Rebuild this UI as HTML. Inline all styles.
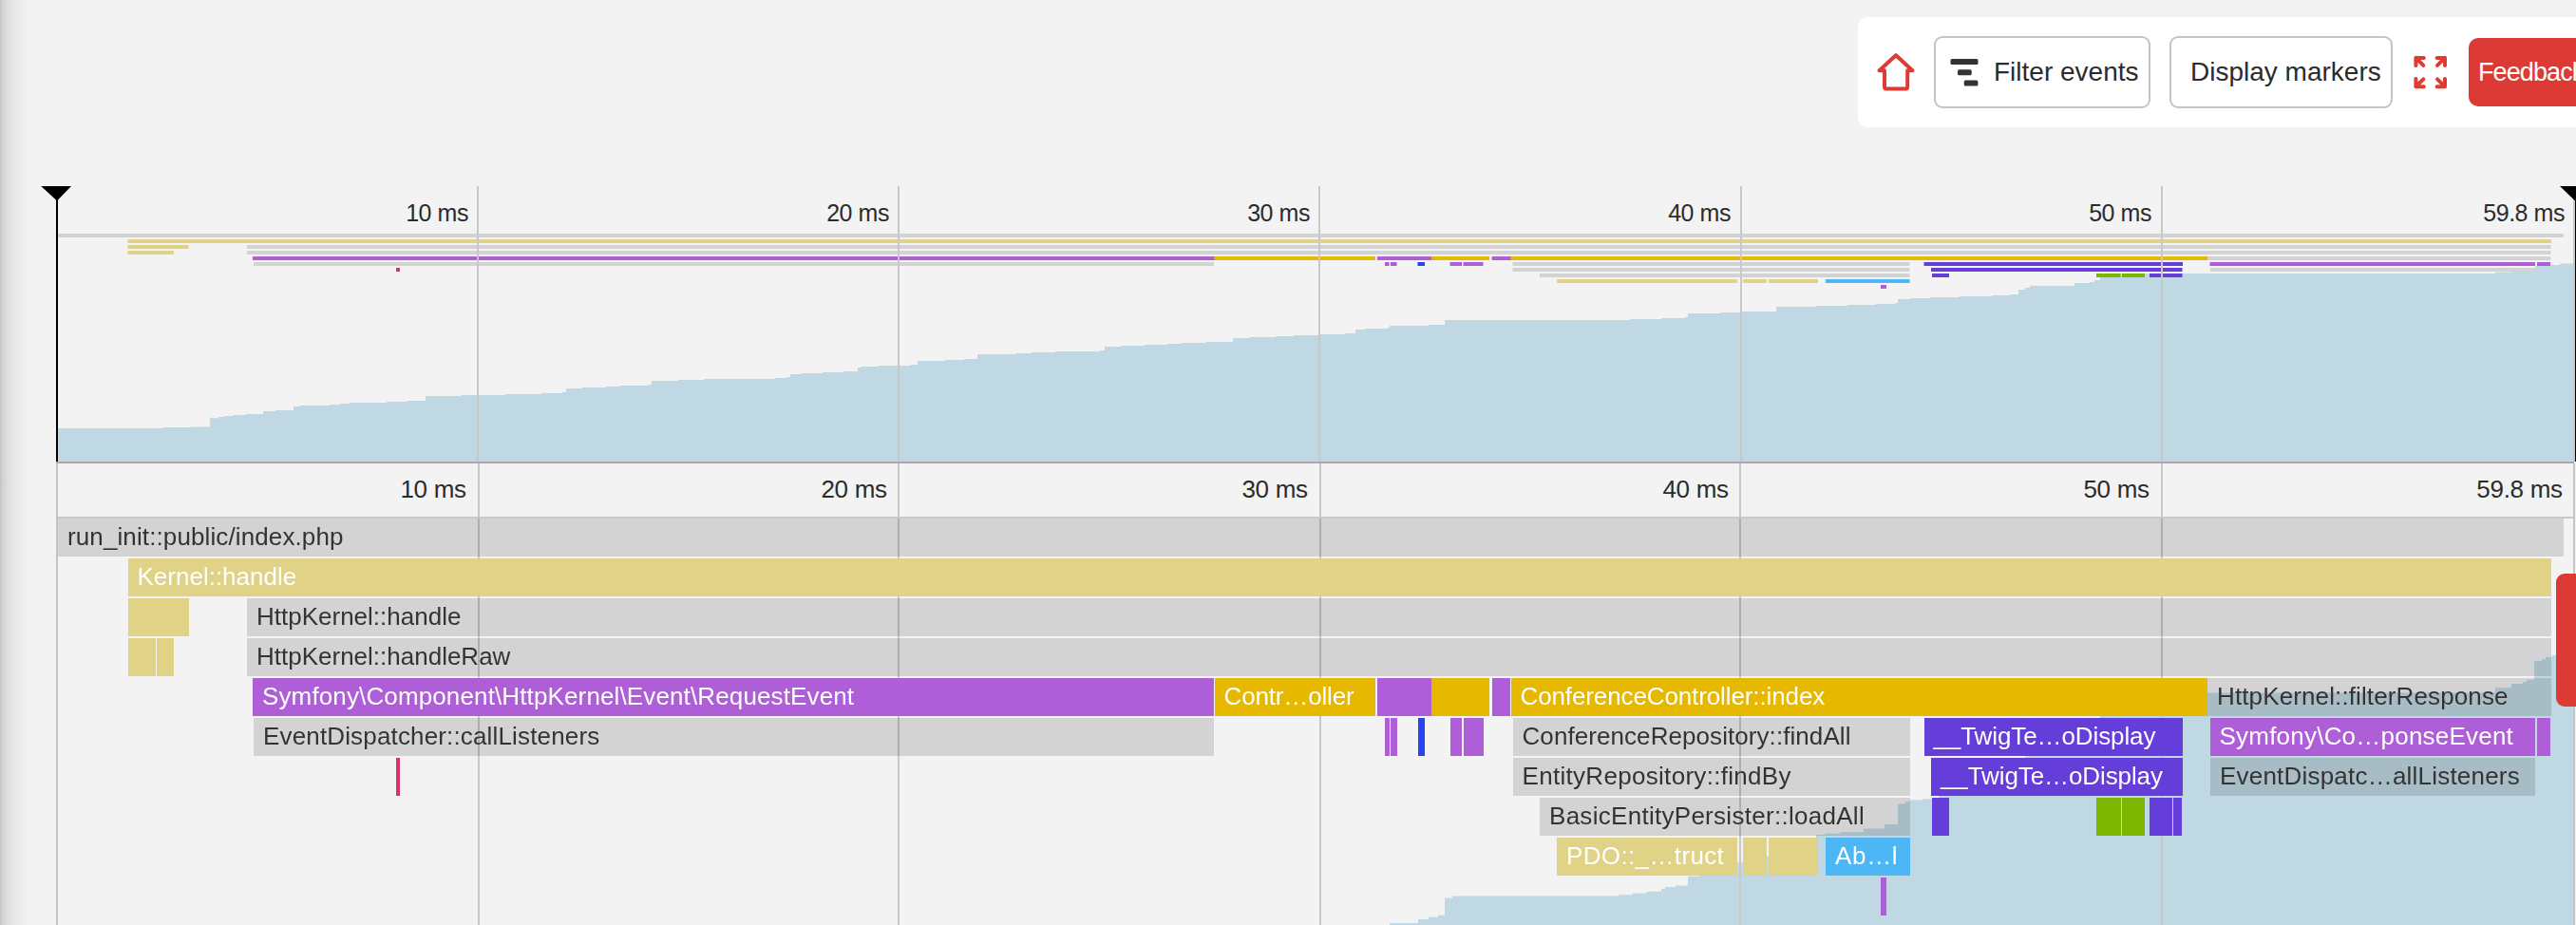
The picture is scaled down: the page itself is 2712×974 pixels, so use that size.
<!DOCTYPE html>
<html><head><meta charset="utf-8"><title>Timeline</title>
<style>
*{box-sizing:border-box}
html,body{margin:0;padding:0;width:2712px;height:974px;overflow:hidden;background:#f3f3f3;font-family:"Liberation Sans",Arial,sans-serif;}
.abs{position:absolute}
.shadow{position:absolute;left:0;top:0;width:40px;height:974px;background:linear-gradient(to right,#c3c3c3 0px,#d3d3d3 3px,#dcdcdc 7px,#e4e4e4 13px,#ebebeb 20px,#f0f0f0 28px,#f3f3f3 36px);}
.toolbar{position:absolute;left:1956px;top:18px;width:800px;height:116px;background:#fff;border-radius:10px;}
.btn{position:absolute;top:38px;height:76px;border:2px solid #c4c4c4;border-radius:9px;background:#fff;font-size:28px;color:#2b2b2b;line-height:72px;white-space:nowrap}
.fb{position:absolute;left:2599px;top:40px;width:200px;height:72px;background:#dd3a35;border-radius:10px;color:#fff;font-size:27px;line-height:72px;padding-left:10px;letter-spacing:-0.9px;white-space:nowrap}
.lbl{position:absolute;white-space:nowrap;color:#2b2b2b;text-align:right}
.b{position:absolute;overflow:hidden;white-space:nowrap;font-size:26px;line-height:40px}
.b span{position:absolute;left:10px;top:-1px}
.bars{position:absolute;left:0;top:0;width:2712px;height:974px;will-change:transform}
.red{position:absolute;left:2691px;top:604px;width:40px;height:140px;background:#dd3a35;border-radius:9px;}
</style></head><body>
<div class="shadow"></div>

<div class="toolbar"></div>
<div class="btn" style="left:2036px;width:228px;padding-left:61px">Filter events</div>
<div class="btn" style="left:2284px;width:235px;padding-left:20px">Display markers</div>
<div class="fb">Feedback</div>
<svg class="abs" style="left:0;top:0" width="2712" height="140" viewBox="0 0 2712 140"><g fill="none" stroke="#df3b35" stroke-width="4" stroke-linecap="round" stroke-linejoin="round"><path d="M1978.5 74.2 L1996 58.2 L2013.5 74.2 M1978.5 74.2 H1984 M2008.2 74.2 H2013.5 M1984 74.2 V91.5 Q1984 93.5 1986 93.5 H2006.2 Q2008.2 93.5 2008.2 91.5 V74.2"/><path d="M2551.8 60.9 H2543.4 V69.1 M2543.4 60.9 L2551.3 68.8 M2565.6 60.9 H2574 V69.1 M2574 60.9 L2566 68.8 M2543.4 83 V91.2 H2551.8 M2543.4 91.2 L2551.3 83.3 M2574 83 V91.2 H2565.6 M2574 91.2 L2566 83.3"/></g><g fill="#333"><rect x="2053.5" y="62" width="29" height="6" rx="1.5"/><rect x="2061" y="73.3" width="14.7" height="6" rx="1.5"/><rect x="2067.7" y="84.6" width="14.7" height="6" rx="1.5"/></g></svg>
<svg class="abs" style="left:0;top:0" width="2712" height="974" viewBox="0 0 2712 974">
<path d="M61 486 L61 451 L172 451 L172 450 L201 450 L201 449.4 L221 449.4 L221 440.3 L230 440.3 L230 439 L236 439 L236 438 L246 438 L246 437 L259 437 L259 436 L277 436 L277 433 L290 433 L290 432 L309 432 L309 428 L316 428 L316 427 L347 427 L347 426 L358 426 L358 425 L368 425 L368 424 L407 424 L407 423 L429 423 L429 422 L448 422 L448 417 L486 417 L486 416 L532 416 L532 415 L570 415 L570 414 L592 414 L592 413 L596 413 L596 409 L613 409 L613 408 L638 408 L638 407 L653 407 L653 406 L683 406 L683 405 L686 405 L686 401 L714 401 L714 400 L741 400 L741 399 L816 399 L816 398 L828 398 L828 397 L832 397 L832 394 L844 394 L844 393 L866 393 L866 392 L888 392 L888 391 L903 391 L903 387 L906 387 L906 386 L925 386 L925 385 L959 385 L959 384 L966 384 L966 380 L995 380 L995 379 L1015 379 L1015 378 L1029 378 L1029 373 L1070 373 L1070 372 L1086 372 L1086 371 L1111 371 L1111 370 L1158 370 L1158 369 L1163 369 L1163 365 L1180 365 L1180 364 L1205 364 L1205 363 L1229 363 L1229 362 L1244 362 L1244 361 L1270 361 L1270 360 L1298 360 L1298 356 L1316 356 L1316 355 L1343 355 L1343 354 L1362 354 L1362 353 L1390 353 L1390 352 L1416 352 L1416 351 L1427 351 L1427 347 L1437 347 L1437 346 L1461 346 L1461 345 L1463 345 L1463 343 L1504 343 L1504 342 L1521 342 L1521 337 L1716 337 L1716 336 L1749 336 L1749 335 L1774 335 L1774 334 L1777 334 L1777 330 L1811 330 L1811 329 L1834 329 L1834 328 L1870 328 L1870 323 L1912 323 L1912 322 L1945 322 L1945 321 L1975 321 L1975 320 L1995 320 L1995 319 L1998 319 L1998 315 L2011 315 L2011 314 L2032 314 L2032 313 L2063 313 L2063 312 L2097 312 L2097 311 L2116 311 L2116 310 L2125 310 L2125 305 L2132 305 L2132 303 L2137 303 L2137 301 L2184 301 L2184 298 L2200 298 L2200 297 L2205 297 L2205 295 L2211 295 L2211 292 L2220 292 L2220 288 L2627 288 L2627 286.5 L2644 286.5 L2644 285.3 L2656 285.3 L2656 284 L2669 284 L2669 280 L2685 280 L2685 279 L2695 279 L2695 277.5 L2709 277.5 L2709 486 Z" fill="#c0d8e3"/>
<rect x="61" y="246" width="2638.0" height="4" fill="#d3d3d3"/>
<rect x="134.5" y="252" width="2551.5" height="4" fill="#e0d287"/>
<rect x="134.5" y="258" width="64.0" height="4" fill="#e0d287"/>
<rect x="260" y="258" width="2425.5" height="4" fill="#d3d3d3"/>
<rect x="134.5" y="264" width="31.0" height="4" fill="#e0d287"/>
<rect x="164.9" y="264" width="18.1" height="4" fill="#e0d287"/>
<rect x="260" y="264" width="2425.5" height="4" fill="#d3d3d3"/>
<rect x="266" y="270" width="1013.1" height="4" fill="#ae5fd8"/>
<rect x="1278.5" y="270" width="169.5" height="4" fill="#e6b800"/>
<rect x="1450" y="270" width="57.6" height="4" fill="#ae5fd8"/>
<rect x="1507" y="270" width="61.0" height="4" fill="#e6b800"/>
<rect x="1570.5" y="270" width="20.6" height="4" fill="#ae5fd8"/>
<rect x="1590.5" y="270" width="734.1" height="4" fill="#e6b800"/>
<rect x="2324" y="270" width="361.5" height="4" fill="#d3d3d3"/>
<rect x="267" y="276" width="1011.0" height="4" fill="#d3d3d3"/>
<rect x="1458" y="276" width="4.6" height="4" fill="#ae5fd8"/>
<rect x="1464" y="276" width="6.5" height="4" fill="#ae5fd8"/>
<rect x="1492.5" y="276" width="7.5" height="4" fill="#2a43f2"/>
<rect x="1526.5" y="276" width="12.5" height="4" fill="#ae5fd8"/>
<rect x="1540.5" y="276" width="21.0" height="4" fill="#ae5fd8"/>
<rect x="1592.5" y="276" width="418.0" height="4" fill="#d3d3d3"/>
<rect x="2025.5" y="276" width="272.5" height="4" fill="#653dd8"/>
<rect x="2326.5" y="276" width="342.5" height="4" fill="#ae5fd8"/>
<rect x="2671" y="276" width="14.0" height="4" fill="#ae5fd8"/>
<rect x="417" y="282" width="4.0" height="4" fill="#d6326e"/>
<rect x="1592.5" y="282" width="418.0" height="4" fill="#d3d3d3"/>
<rect x="2033" y="282" width="264.5" height="4" fill="#653dd8"/>
<rect x="2327" y="282" width="342.0" height="4" fill="#d3d3d3"/>
<rect x="1621" y="288" width="389.5" height="4" fill="#d3d3d3"/>
<rect x="2034" y="288" width="18.0" height="4" fill="#653dd8"/>
<rect x="2207" y="288" width="25.5" height="4" fill="#7db500"/>
<rect x="2234" y="288" width="24.0" height="4" fill="#7db500"/>
<rect x="2263" y="288" width="25.4" height="4" fill="#653dd8"/>
<rect x="2287.8" y="288" width="9.7" height="4" fill="#653dd8"/>
<rect x="1639" y="294" width="190.0" height="4" fill="#e0d287"/>
<rect x="1835" y="294" width="25.0" height="4" fill="#e0d287"/>
<rect x="1862" y="294" width="52.0" height="4" fill="#e0d287"/>
<rect x="1922" y="294" width="88.5" height="4" fill="#4db6f5"/>
<rect x="1980" y="300" width="6.0" height="4" fill="#ae5fd8"/>
<rect x="502" y="196" width="2" height="290" fill="#c8c8c8"/>
<rect x="945" y="196" width="2" height="290" fill="#c8c8c8"/>
<rect x="1388" y="196" width="2" height="290" fill="#c8c8c8"/>
<rect x="1832" y="196" width="2" height="290" fill="#c8c8c8"/>
<rect x="2275" y="196" width="2" height="290" fill="#c8c8c8"/>
<rect x="59" y="486" width="2651" height="2" fill="#a9a9a9"/>
<rect x="59" y="200" width="2" height="286" fill="#000"/>
<path d="M43.2 196 H75 L60 211.5 Z" fill="#000"/>
<rect x="2710" y="200" width="2" height="286" fill="#000"/>
<path d="M2695 196 H2727 L2711 211.6 Z" fill="#000"/>
<rect x="2709" y="211" width="2" height="275" fill="#c8c8c8"/>
<path d="M1463 974 L1463 972 L1493 972 L1493 968 L1504 968 L1504 965.7 L1514 965.7 L1514 963.7 L1521 963.7 L1521 945.6 L1529 945.6 L1529 943.5 L1704 943.5 L1704 942.3 L1719 942.3 L1719 940.5 L1734 940.5 L1734 938.7 L1749 938.7 L1749 936 L1753 936 L1753 934 L1764 934 L1764 932.5 L1777 932.5 L1777 922.7 L1790 922.7 L1790 914 L1811 914 L1811 910.3 L1829 910.3 L1829 907.5 L1858 907.5 L1858 901.5 L1870 901.5 L1870 884 L1912 884 L1912 879 L1921 879 L1921 877.7 L1937 877.7 L1937 876.2 L1962 876.2 L1962 872.4 L1984 872.4 L1984 868 L1998 868 L1998 846.6 L2006 846.6 L2006 844.3 L2011 844.3 L2011 842.2 L2024 842.2 L2024 841.3 L2041 841.3 L2041 837 L2063 837 L2063 835.3 L2097 835.3 L2097 830.9 L2116 830.9 L2116 826.5 L2125 826.5 L2125 804.4 L2132 804.4 L2132 796.5 L2137 796.5 L2137 786.8 L2184 786.8 L2184 773.6 L2200 773.6 L2200 769.2 L2205 769.2 L2205 760.4 L2211 760.4 L2211 747 L2220 747 L2220 734 L2324 734 L2324 729.6 L2627 729.6 L2627 724.3 L2644 724.3 L2644 720 L2656 720 L2656 718 L2660 718 L2660 715.8 L2668 715.8 L2668 696 L2676 696 L2676 694.2 L2680 694.2 L2680 692 L2687 692 L2687 690.1 L2709 690.1 L2709 974 Z" fill="#c0d8e3"/>
<rect x="503" y="488" width="2" height="486" fill="#c8c8c8"/>
<rect x="945" y="488" width="2" height="486" fill="#c8c8c8"/>
<rect x="1389" y="488" width="2" height="486" fill="#c8c8c8"/>
<rect x="1831" y="488" width="2" height="486" fill="#c8c8c8"/>
<rect x="2275" y="488" width="2" height="486" fill="#c8c8c8"/>
<rect x="59" y="488" width="2" height="486" fill="#c4c4c4"/>
<rect x="2709" y="488" width="2" height="486" fill="#c4c4c4"/>
<rect x="61" y="544" width="2650" height="2" fill="#c8c8c8"/>
</svg>
<div class="lbl" style="right:2219.0px;top:209px;font-size:25px;line-height:30px;letter-spacing:-0.45px">10 ms</div>
<div class="lbl" style="right:1776.0px;top:209px;font-size:25px;line-height:30px;letter-spacing:-0.45px">20 ms</div>
<div class="lbl" style="right:1333.0px;top:209px;font-size:25px;line-height:30px;letter-spacing:-0.45px">30 ms</div>
<div class="lbl" style="right:890.0px;top:209px;font-size:25px;line-height:30px;letter-spacing:-0.45px">40 ms</div>
<div class="lbl" style="right:447.0px;top:209px;font-size:25px;line-height:30px;letter-spacing:-0.45px">50 ms</div>
<div class="lbl" style="right:12px;top:209px;font-size:25px;line-height:30px;letter-spacing:-0.45px">59.8 ms</div>
<div class="lbl" style="right:2221.3px;top:499px;font-size:26px;line-height:32px;letter-spacing:-0.3px">10 ms</div>
<div class="lbl" style="right:1778.3px;top:499px;font-size:26px;line-height:32px;letter-spacing:-0.3px">20 ms</div>
<div class="lbl" style="right:1335.3px;top:499px;font-size:26px;line-height:32px;letter-spacing:-0.3px">30 ms</div>
<div class="lbl" style="right:892.3px;top:499px;font-size:26px;line-height:32px;letter-spacing:-0.3px">40 ms</div>
<div class="lbl" style="right:449.3000000000002px;top:499px;font-size:26px;line-height:32px;letter-spacing:-0.3px">50 ms</div>
<div class="lbl" style="right:14.300000000000182px;top:499px;font-size:26px;line-height:32px;letter-spacing:-0.3px">59.8 ms</div>
<div class="bars">
<div class="b" style="left:61px;top:546px;width:2638.0px;height:40px;background:rgba(0,0,0,0.13);color:#333333"><span style="letter-spacing:0.112px">run_init::public/index.php</span></div>
<div class="b" style="left:134.5px;top:588px;width:2551.5px;height:40px;background:#e0d287;color:#fff"><span>Kernel::handle</span></div>
<div class="b" style="left:134.5px;top:630px;width:64.0px;height:40px;background:#e0d287;color:#fff"></div>
<div class="b" style="left:260px;top:630px;width:2425.5px;height:40px;background:rgba(0,0,0,0.13);color:#333333"><span>HttpKernel::handle</span></div>
<div class="b" style="left:134.5px;top:672px;width:29.8px;height:40px;background:#e0d287;color:#fff"></div>
<div class="b" style="left:164.9px;top:672px;width:18.1px;height:40px;background:#e0d287;color:#fff"></div>
<div class="b" style="left:260px;top:672px;width:2425.5px;height:40px;background:rgba(0,0,0,0.13);color:#333333"><span>HttpKernel::handleRaw</span></div>
<div class="b" style="left:266px;top:714px;width:1012.0px;height:40px;background:#ae5fd8;color:#fff"><span style="letter-spacing:0.130px">Symfony\Component\HttpKernel\Event\RequestEvent</span></div>
<div class="b" style="left:1278.5px;top:714px;width:169.5px;height:40px;background:#e6b800;color:#fff"><span style="letter-spacing:-0.150px">Contr…oller</span></div>
<div class="b" style="left:1450px;top:714px;width:57.0px;height:40px;background:#ae5fd8;color:#fff"></div>
<div class="b" style="left:1507px;top:714px;width:61.0px;height:40px;background:#e6b800;color:#fff"></div>
<div class="b" style="left:1570.5px;top:714px;width:19.5px;height:40px;background:#ae5fd8;color:#fff"></div>
<div class="b" style="left:1590.5px;top:714px;width:733.5px;height:40px;background:#e6b800;color:#fff"><span style="letter-spacing:-0.115px">ConferenceController::index</span></div>
<div class="b" style="left:2324px;top:714px;width:361.5px;height:40px;background:rgba(0,0,0,0.13);color:#333333"><span style="letter-spacing:0.120px">HttpKernel::filterResponse</span></div>
<div class="b" style="left:267px;top:756px;width:1011.0px;height:40px;background:rgba(0,0,0,0.13);color:#333333"><span style="letter-spacing:0.155px">EventDispatcher::callListeners</span></div>
<div class="b" style="left:1458px;top:756px;width:4.6px;height:40px;background:#ae5fd8;color:#fff"></div>
<div class="b" style="left:1464px;top:756px;width:6.5px;height:40px;background:#ae5fd8;color:#fff"></div>
<div class="b" style="left:1492.5px;top:756px;width:7.5px;height:40px;background:#2a43f2;color:#fff"></div>
<div class="b" style="left:1526.5px;top:756px;width:12.5px;height:40px;background:#ae5fd8;color:#fff"></div>
<div class="b" style="left:1540.5px;top:756px;width:21.0px;height:40px;background:#ae5fd8;color:#fff"></div>
<div class="b" style="left:1592.5px;top:756px;width:418.0px;height:40px;background:rgba(0,0,0,0.13);color:#333333"><span style="letter-spacing:0.071px">ConferenceRepository::findAll</span></div>
<div class="b" style="left:2025.5px;top:756px;width:272.5px;height:40px;background:#653dd8;color:#fff"><span style="letter-spacing:-0.100px">__TwigTe…oDisplay</span></div>
<div class="b" style="left:2326.5px;top:756px;width:342.5px;height:40px;background:#ae5fd8;color:#fff"><span style="letter-spacing:0.220px">Symfony\Co…ponseEvent</span></div>
<div class="b" style="left:2671px;top:756px;width:14.0px;height:40px;background:#ae5fd8;color:#fff"></div>
<div class="b" style="left:417px;top:798px;width:4.0px;height:40px;background:#d6326e;color:#fff"></div>
<div class="b" style="left:1592.5px;top:798px;width:418.0px;height:40px;background:rgba(0,0,0,0.13);color:#333333"><span style="letter-spacing:0.304px">EntityRepository::findBy</span></div>
<div class="b" style="left:2033px;top:798px;width:264.5px;height:40px;background:#653dd8;color:#fff"><span style="letter-spacing:-0.100px">__TwigTe…oDisplay</span></div>
<div class="b" style="left:2327px;top:798px;width:342.0px;height:40px;background:rgba(0,0,0,0.13);color:#333333"><span style="letter-spacing:0.208px">EventDispatc…allListeners</span></div>
<div class="b" style="left:1621px;top:840px;width:389.5px;height:40px;background:rgba(0,0,0,0.13);color:#333333"><span style="letter-spacing:0.286px">BasicEntityPersister::loadAll</span></div>
<div class="b" style="left:2034px;top:840px;width:18.0px;height:40px;background:#653dd8;color:#fff"></div>
<div class="b" style="left:2207px;top:840px;width:25.5px;height:40px;background:#7db500;color:#fff"></div>
<div class="b" style="left:2234px;top:840px;width:24.0px;height:40px;background:#7db500;color:#fff"></div>
<div class="b" style="left:2263px;top:840px;width:24.2px;height:40px;background:#653dd8;color:#fff"></div>
<div class="b" style="left:2287.8px;top:840px;width:9.7px;height:40px;background:#653dd8;color:#fff"></div>
<div class="b" style="left:1639px;top:882px;width:190.0px;height:40px;background:#e0d287;color:#fff"><span style="letter-spacing:0.364px">PDO::_…truct</span></div>
<div class="b" style="left:1835px;top:882px;width:25.0px;height:40px;background:#e0d287;color:#fff"></div>
<div class="b" style="left:1862px;top:882px;width:52.0px;height:40px;background:#e0d287;color:#fff"></div>
<div class="b" style="left:1922px;top:882px;width:88.5px;height:40px;background:#4db6f5;color:#fff"><span style="letter-spacing:0.667px">Ab…l</span></div>
<div class="b" style="left:1980px;top:924px;width:6.0px;height:40px;background:#ae5fd8;color:#fff"></div>
</div>
<div class="red"></div>
</body></html>
